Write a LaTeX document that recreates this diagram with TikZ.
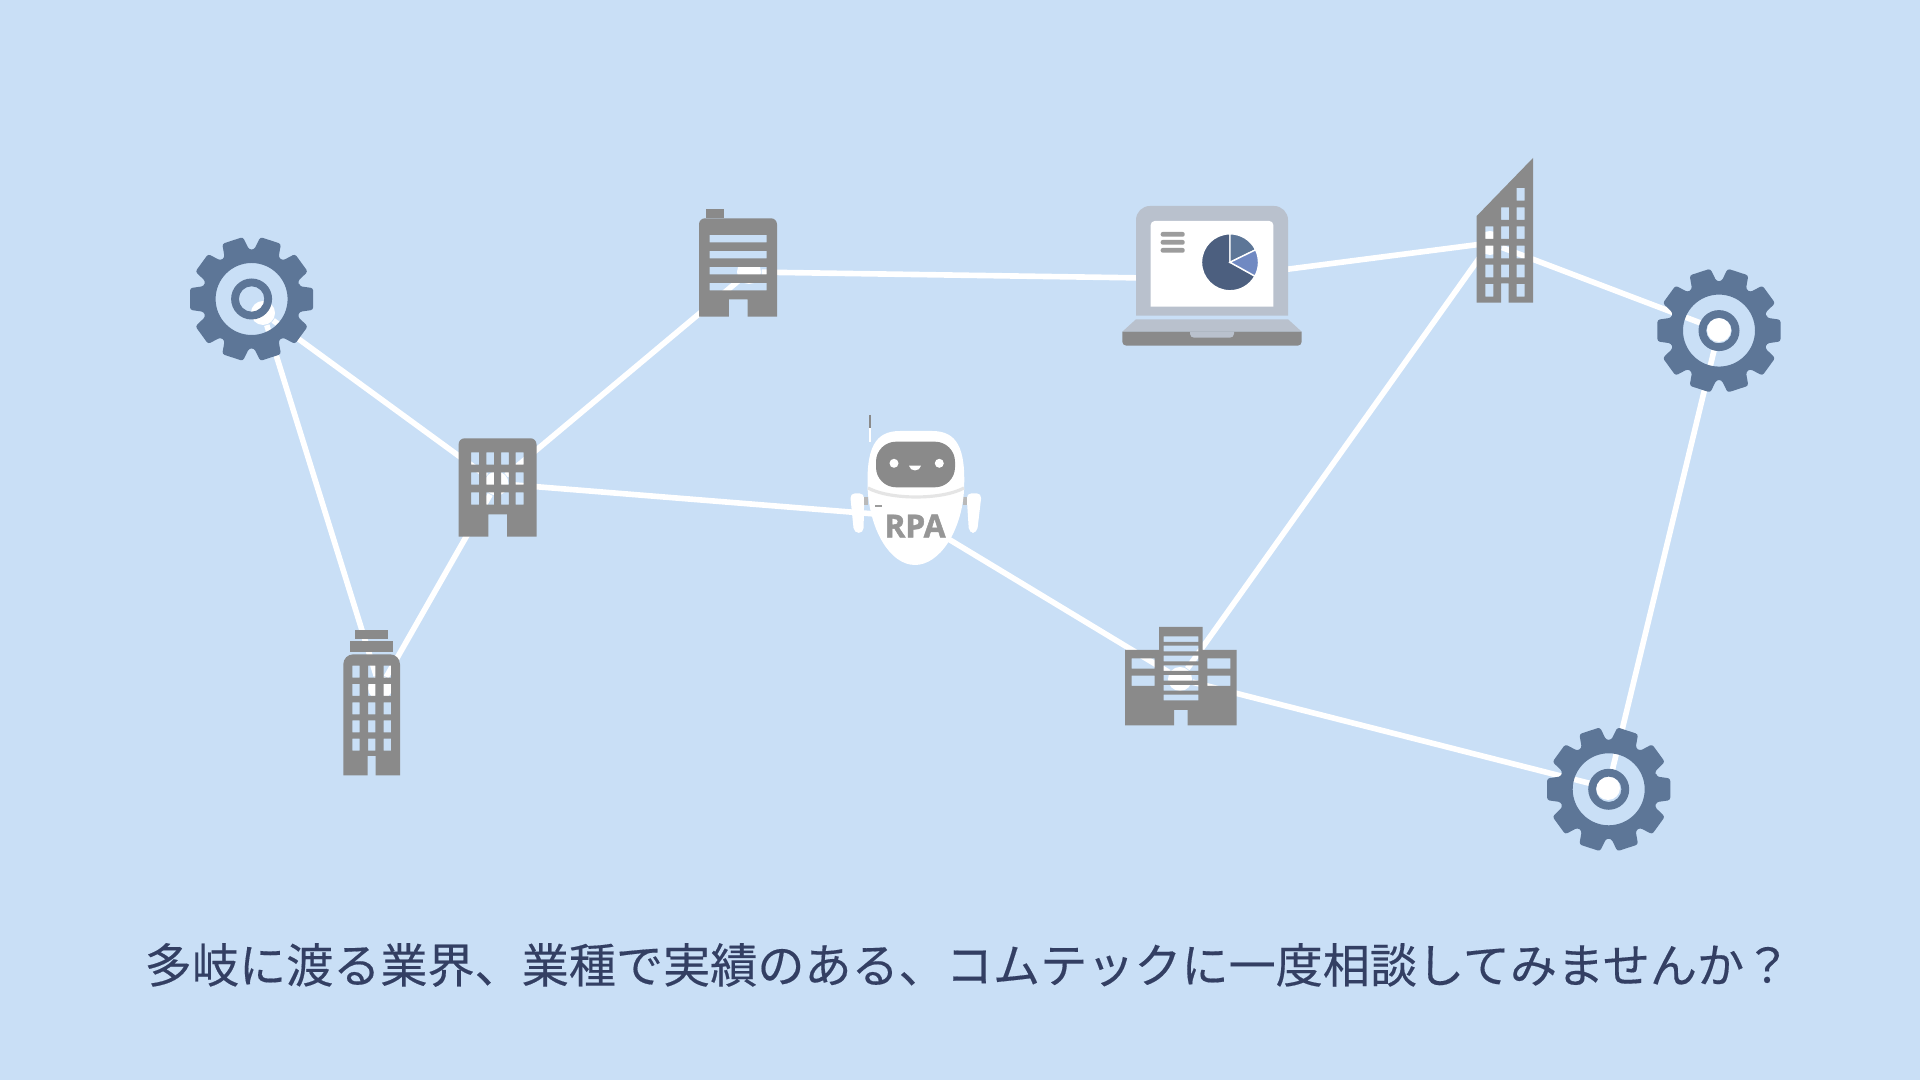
\documentclass[tikz,border=0pt]{standalone}
\usepackage{xcolor}
\usepackage{fontspec}
\newfontfamily\jpfont[FakeBold=0.3]{Noto Sans CJK JP}
\newfontfamily\rpafont[FakeBold=1.5]{Open Sans}
\usetikzlibrary{positioning}
\definecolor{skybg}{HTML}{C9DFF6}
\definecolor{bldgrey}{HTML}{8A8A8A}
\definecolor{gearblue}{HTML}{5D7697}
\definecolor{lidgrey}{HTML}{B9C1CD}
\definecolor{piedark}{HTML}{4C5F7F}
\definecolor{pielight}{HTML}{7089C2}
\definecolor{captionink}{HTML}{333F63}

\begin{document}
\begin{tikzpicture}[
			x=0.01cm, y=-0.01cm,
			hub/.style={circle, fill=white, inner sep=0pt, minimum size=0.24cm},
			link/.style={draw=white, line width=1.6pt},
			bldg/.style={fill=bldgrey, even odd rule},
			gear/.pic={
				\fill[gearblue, even odd rule] {[rounded corners=0.025cm] (-15:49.5)
					\foreach \a in {0,36,...,324} {-- (\a-15:49.5) -- (\a-10:62.5) -- (\a+10:62.5) -- (\a+15:49.5)} -- cycle}
					(0,0) circle[radius=36] (0,0) circle[radius=20.5] (0,0) circle[radius=12.7];
			}
			]
			\fill[skybg] (0,0) rectangle (1920,1080);
			\useasboundingbox (0,0) rectangle (1920,1080);
			
			% hubs under the icons
			\node[hub] (gearleft) at (263,313) {};
			\node[hub] (tower) at (380,688) {};
			\node[hub] (block) at (496.5,483.5) {};
			\node[hub] (office) at (749,272) {};
			\node[hub] (laptop) at (1212,279) {};
			\node[hub] (slant) at (1490,243) {};
			\node[hub] (gearright) at (1719,330) {};
			\node[hub] (gearbottom) at (1608,788) {};
			\node[hub] (complex) at (1180,679) {};
			\node[hub] (robot) at (912,517) {};
			
			\path[link] (gearleft) edge (block);
			\path[link] (gearleft) edge (tower);
			\path[link] (tower) edge (block);
			\path[link] (block) edge (office);
			\path[link] (block) edge (robot);
			\path[link] (office) edge (laptop);
			\path[link] (laptop) edge (slant);
			\path[link] (slant) edge (gearright);
			\path[link] (slant) edge (complex);
			\path[link] (robot) edge (complex);
			\path[link] (complex) edge (gearbottom);
			\path[link] (gearbottom) edge (gearright);
			
			% gears
			\pic at (251.6,299) {gear};
			\pic at (1719,330.6) {gear};
			\pic at (1608.7,789.3) {gear};
			
			% block
			\fill[bldg] (458.6,536.7) [rounded corners=0.06cm] -- (458.6,438.3) -- (536.5,438.3) [sharp corners] -- (536.5,536.7) -- (507,536.7) -- (507,514.3) -- (488.4,514.3) -- (488.4,536.7) -- cycle
				\foreach \wx in {471.2,486.3,501,515.7} {\foreach \wy in {452.3,472.3,492.3} {(\wx,\wy) rectangle ++(7.8,12.4)}};
			
			% office
			\fill[bldg] (705.9,218.3) -- (705.9,209.4) -- (724.3,209.4) -- (724.3,218.3) -- cycle;
			\fill[bldg] (699,316.7) [rounded corners=0.06cm] -- (699,218.3) -- (777,218.3) [sharp corners] -- (777,316.7) -- (747.6,316.7) -- (747.6,299.3) -- (728.8,299.3) -- (728.8,316.7) -- cycle
				\foreach \wy in {235,251,267,283} {(709.6,\wy) rectangle ++(57.1,7.3)};
			
			% tower
			\fill[bldg] (355,630.3) rectangle (388.3,639.3);
			\fill[bldg] (350,641.3) rectangle (393.3,652);
			\fill[bldg] (343.3,775.3) [rounded corners=0.1cm] -- (343.3,654.3) -- (400,654.3) [sharp corners] -- (400,775.3) -- (375.7,775.3) -- (375.7,756) -- (367.7,756) -- (367.7,775.3) -- cycle
				\foreach \wx in {352.3,368,383.7} {\foreach \wy in {665.7,684,702.3,720.3,738.7} {(\wx,\wy) rectangle ++(7.4,12)}};
			
			% slant
			\fill[bldg] (1476.7,302.7) -- (1476.7,216) -- (1533,158) -- (1533,302.7) -- (1508.7,302.7) -- (1508.7,283.3) -- (1501,283.3) -- (1501,302.7) -- cycle
				(1516.7,188) rectangle ++(8,12.7)
				\foreach \wx in {1501,1516.7} {(\wx,207.3) rectangle ++(8,12.7)}
				\foreach \wx in {1485.3,1501,1516.7} {\foreach \wy in {226.3,245.7,264.7} {(\wx,\wy) rectangle ++(8,12.7)}}
				\foreach \wx in {1485.3,1516.7} {(\wx,284) rectangle ++(8,12.7)};
			
			% complex
			\fill[bldg] (1125,725.3) -- (1125,650) -- (1159,650) -- (1159,627) -- (1202.7,627) -- (1202.7,650) -- (1236.7,650) -- (1236.7,725.3) -- (1187.7,725.3) -- (1187.7,710) -- (1174,710) -- (1174,725.3) -- cycle
				\foreach \wx in {1131.7,1207.3} {\foreach \wy in {658.3,675.7} {(\wx,\wy) rectangle ++(23,10.3)}}
				\foreach \wy in {636.3,645.7,655.7,665.3,675,685,694.7} {(1163.7,\wy) rectangle ++(34.6,5.7)};
			
			% laptop
			\fill[lidgrey] (1136,315.7) [rounded corners=0.14cm] -- (1136,206) -- (1288,206) [sharp corners] -- (1288,315.7) -- cycle;
			\fill[white] (1150.7,306.7) [rounded corners=0.04cm] -- (1150.7,221) -- (1273.3,221) [sharp corners] -- (1273.3,306.7) -- cycle;
			\fill[lidgrey] (1136,319.3) -- (1288,319.3) -- (1301.7,331.7) -- (1122.3,331.7) -- cycle;
			\fill[bldgrey] (1122.3,331.7) -- (1301.7,331.7) [rounded corners=0.04cm] -- (1301.7,345.7) -- (1122.3,345.7) [sharp corners] -- cycle;
			\fill[lidgrey] (1190,331.7) [rounded corners=0.04cm] -- (1190,337.7) -- (1234,337.7) [sharp corners] -- (1234,331.7) -- cycle;
			\foreach \wy in {232,240,248} {
				\fill[bldgrey!85, rounded corners=0.02cm] (1160.7,\wy) rectangle ++(24,4.7);
			}
			\begin{scope}[shift={(1230,262.3)}, yscale=-1]
				\filldraw[fill=piedark, draw=white, line width=0.4pt] (0,0) -- (90:28.5) arc[start angle=90, end angle=331, radius=28.5] -- cycle;
				\filldraw[fill=gearblue, draw=white, line width=0.4pt] (0,0) -- (26:28.5) arc[start angle=26, end angle=90, radius=28.5] -- cycle;
				\filldraw[fill=pielight, draw=white, line width=0.4pt] (0,0) -- (-29:28.5) arc[start angle=-29, end angle=26, radius=28.5] -- cycle;
			\end{scope}
			
			% robot
			\draw[bldgrey, line width=0.8pt] (870,415) -- (870,428.3);
			\draw[white, line width=0.8pt] (870,428.3) -- (870,442);
			\fill[white, rounded corners=0.05cm] (850,493.3) -- (864.3,493.3) -- (863.5,533) -- (854,533) -- cycle;
			\fill[white, rounded corners=0.05cm] (966.5,493.3) -- (981.7,493.3) -- (977,533) -- (969,533) -- cycle;
			\fill[bldgrey!60] (864,497.3) rectangle (868.3,505);
			\fill[bldgrey!60] (963.3,497.3) rectangle (967.3,505);
			\fill[white] (867.7,490) .. controls (866,448) and (875,431) .. (900,431) -- (932,431) .. controls (957,431) and (966,448) .. (964,490) .. controls (962,530) and (940,565) .. (915,565) .. controls (890,565) and (870,530) .. (867.7,490) -- cycle;
			\draw[black!10, line width=0.9pt] (868,488) .. controls (890,500) and (942,500) .. (964,488);
			\fill[bldgrey!85] (875,505) rectangle (882.3,507);
			\fill[bldgrey, rounded corners=0.2cm] (876,441.7) rectangle (955,487.3);
			\fill[white] (894,463.3) circle[radius=4.5] (939.3,463.3) circle[radius=4.5];
			\fill[white] (909,465.7) .. controls (910,472) and (920,472) .. (921,465.7) -- cycle;
			\node[font=\rpafont\bfseries\fontsize{9pt}{10pt}\selectfont, text=bldgrey!90, inner sep=0pt] (rpalabel) at (915,526) {RPA};
			
			\node[font=\jpfont\fontsize{13.4pt}{16pt}\selectfont, text=captionink, inner sep=0pt] (caption) at (968,965) {多岐に渡る業界、業種で実績のある、コムテックに一度相談してみませんか？};
		\end{tikzpicture}
\end{document}
